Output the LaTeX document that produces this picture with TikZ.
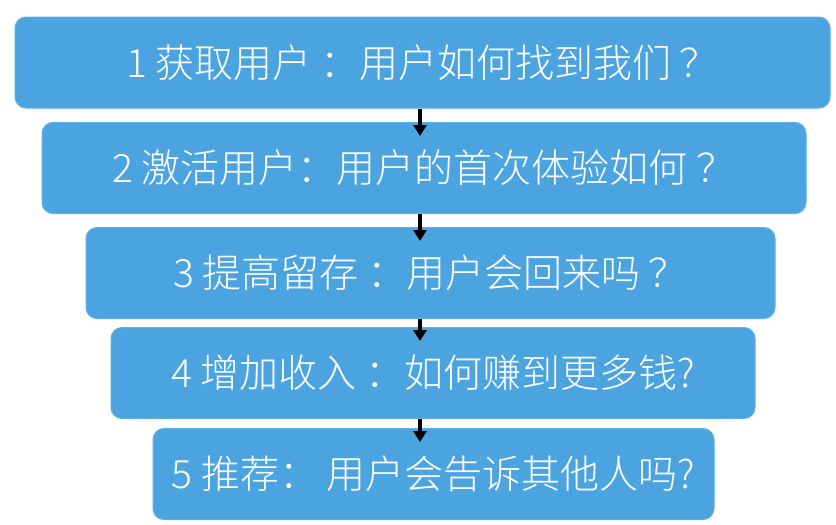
\documentclass[tikz,border=0pt]{standalone}
\usepackage{fontspec}
\setmainfont{Noto Sans CJK SC}[UprightFont=* Light]
\usetikzlibrary{positioning,calc,arrows.meta}
\definecolor{funnelblue}{RGB}{75,164,224}
\definecolor{funneledge}{RGB}{96,176,228}

\tikzset{
  stage/.style={fill=funnelblue, draw=funneledge, line width=1pt, rounded corners=11pt,
    minimum height=91pt, inner sep=0pt, text=white, font=\fontsize{39}{42}\selectfont},
  flow/.style={-{Triangle[width=13pt,length=11pt]}, line width=4pt, black}
}

\begin{document}
\begin{tikzpicture}[x=1pt,y=-1pt]
\useasboundingbox (0,0) rectangle (836,525);
\coordinate (ax) at (420,0);
\foreach \n/\cx/\cy/\w/\txt in {%
  1/422.5/62.5/815/{1 获取用户 ：用户如何找到我们 ？},%
  2/424/168/764/{2 激活用户：用户的首次体验如何 ？},%
  3/430.5/273/689/{3 提高留存 ：用户会回来吗 ？},%
  4/433/373/644/{4 增加收入 ：如何赚到更多钱?},%
  5/433.5/474/561/{5 推荐： 用户会告诉其他人吗?}%
}{
  \node[stage, minimum width=\w pt] (b\n) at (\cx,\cy) {\txt};
}
\foreach \a/\b in {1/2,2/3,3/4,4/5}
  \draw[flow, shorten >=-14pt] (b\a.south -| ax) -- (b\b.north -| ax);
\end{tikzpicture}
\end{document}
